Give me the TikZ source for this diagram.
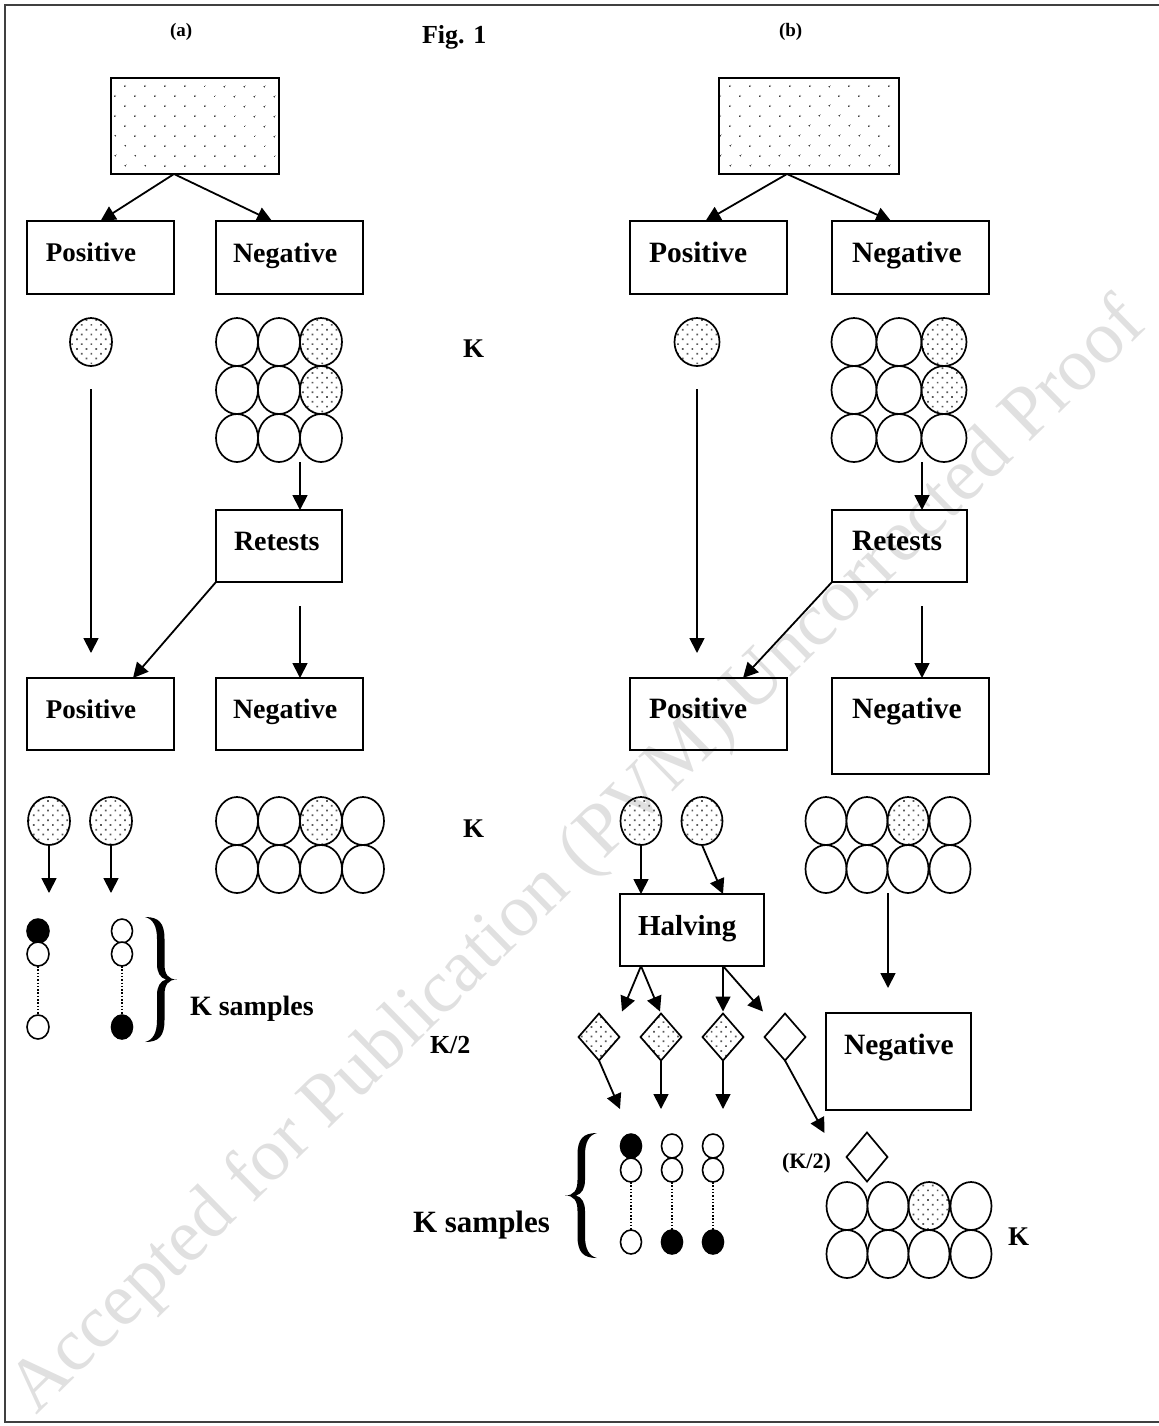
\documentclass[tikz,border=0pt]{standalone}
\usepackage{fontspec}
\setmainfont{Liberation Serif}
\usetikzlibrary{shapes.geometric,arrows.meta,patterns.meta,calc}
\newcommand\pxu{0.5pt}
\begin{document}
\begin{tikzpicture}[x=0.5pt,y=-0.5pt,
  frame/.style={line width=1pt,draw=black!75},
  bx/.style={draw,line width=1pt,inner sep=0pt,outer sep=0pt},
  dotr/.style={pattern={Dots[radius=0.5pt,distance=6.9pt,angle=45]},pattern color=black!75},
  dotc/.style={pattern={Dots[radius=0.6pt,distance=3.4pt,angle=45]},pattern color=black!65},
  ell/.style={ellipse,draw,line width=0.85pt,inner sep=0pt,outer sep=0pt,fill=white,minimum width=42*\pxu,minimum height=48*\pxu},
  elld/.style={ell,dotc},
  wd/.style={minimum width=#1*\pxu},
  sm/.style={ellipse,draw,line width=0.8pt,inner sep=0pt,outer sep=0pt,fill=white,minimum width=21*\pxu,minimum height=24*\pxu},
  smb/.style={sm,fill=black},
  dia/.style={diamond,draw,line width=0.85pt,inner sep=0pt,outer sep=0pt,minimum width=41*\pxu,minimum height=47*\pxu},
  diad/.style={dia,dotc},
  arr/.style={line width=0.9pt,-{Triangle[length=7.5pt,width=7.5pt]}},
  dline/.style={line width=0.75pt,dash pattern=on 0.75pt off 0.9pt},
  txt/.style={anchor=base west,inner sep=0pt,outer sep=0pt,font=\bfseries\fontsize{#1}{#1}\selectfont},
  wm/.style={anchor=base west,inner sep=0pt,text=black!12,font=\fontsize{37.5}{37.5}\selectfont},
  rbr/.pic={\fill (0,0) .. controls (14,0) and (19.5,6) .. (19.5,22)
      -- (19.5,47) .. controls (19.5,57) and (23,62.5) .. (32,62.5)
      .. controls (23,62.5) and (19.5,68) .. (19.5,78)
      -- (19.5,103) .. controls (19.5,119) and (14,125) .. (0,125)
      .. controls (8,123) and (12,116) .. (12,103)
      -- (12,78) .. controls (12,70) and (15,64) .. (21,62.5)
      .. controls (15,61) and (12,55) .. (12,47)
      -- (12,22) .. controls (12,9) and (8,2) .. (0,0) -- cycle;}
]
\useasboundingbox (0,0) rectangle (1159,1426);
% watermark
\node[wm,rotate=44.4] (wmk) at (36,1416) {Accepted for Publication (PVM) Uncorrected Proof};
% frame
\draw[frame] (1159,5) -- (5,5) -- (5,1422) -- (1159,1422);
% titles
\node[txt=9.5] (ta) at (170,36) {(a)};
\node[txt=13] (fig) at (422,43) {Fig. 1};
\node[txt=9.5] (tb) at (779,36) {(b)};

% ================= (a) =================
\node[bx,dotr,minimum width=168*\pxu,minimum height=96*\pxu] (topA) at (195,126) {};
\node[bx,minimum width=147*\pxu,minimum height=73*\pxu] (posA) at (100.5,257.5) {};
\node[bx,minimum width=147*\pxu,minimum height=73*\pxu] (negA) at (289.5,257.5) {};
\node[txt=13.5] (posAt) at (46,261) {Positive};
\node[txt=14] (negAt) at (233,262) {Negative};
\coordinate (apA) at (174,174);
\draw[arr] (apA) -- (posA.north);
\draw[arr] (apA) -- ($(negA.north)+(-17.5,0)$);

\node[elld] (circA) at (91,342) {};
\foreach \x/\y/\n/\s in {237/342/gA11/ell,279/342/gA12/ell,321/342/gA13/elld,
  237/390/gA21/ell,279/390/gA22/ell,321/390/gA23/elld,
  237/438/gA31/ell,279/438/gA32/ell,321/438/gA33/ell}
  \node[\s] (\n) at (\x,\y) {};

\node[bx,minimum width=126*\pxu,minimum height=72*\pxu] (retA) at (279,546) {};
\node[txt=14] (retAt) at (234,550) {Retests};
\draw[arr] ($(gA32.south)+(21,0)$) -- ($(retA.north)+(21,0)$);

\node[bx,minimum width=147*\pxu,minimum height=72*\pxu] (posA2) at (100.5,714) {};
\node[bx,minimum width=147*\pxu,minimum height=72*\pxu] (negA2) at (289.5,714) {};
\node[txt=13.5] (posA2t) at (46,718) {Positive};
\node[txt=14] (negA2t) at (233,718) {Negative};
\draw[arr,shorten <=11.5pt,shorten >=12.5pt] (circA.south) -- (circA.south |- posA2.north);
\draw[arr] (retA.south west) -- ($(posA2.north)+(32.5,0)$);
\draw[arr] ($(retA.south)+(21,24)$) -- ($(negA2.north)+(10.5,0)$);

\node[elld] (cA1) at (49,821) {};
\node[elld] (cA2) at (111,821) {};
\draw[arr] (cA1.south) -- ++(0,48);
\draw[arr] (cA2.south) -- ++(0,48);

\foreach \x/\y/\n/\s in {237/821/hA11/ell,279/821/hA12/ell,321/821/hA13/elld,363/821/hA14/ell,
  237/869/hA21/ell,279/869/hA22/ell,321/869/hA23/ell,363/869/hA24/ell}
  \node[\s] (\n) at (\x,\y) {};

% samples (a)
\node[smb,minimum width=22*\pxu] (sA11) at (38,931) {};
\node[sm,minimum width=22*\pxu] (sA12) at (38,954) {};
\node[sm,minimum width=22*\pxu] (sA13) at (38,1027) {};
\draw[dline] (sA12.south) -- (sA13.north);
\node[sm] (sA21) at (122,931) {};
\node[sm] (sA22) at (122,954) {};
\node[smb] (sA23) at (122,1027) {};
\draw[dline] (sA22.south) -- (sA23.north);
\pic at (145,917) {rbr};
\node[txt=14] (ksA) at (190,1015) {K samples};

% middle labels
\node[txt=13.5] (k1) at (463,357) {K};
\node[txt=13.5] (k2) at (463,837) {K};
\node[txt=13] (k3) at (430,1053) {K/2};

% ================= (b) =================
\node[bx,dotr,minimum width=180*\pxu,minimum height=96*\pxu] (topB) at (809,126) {};
\node[bx,minimum width=157*\pxu,minimum height=73*\pxu] (posB) at (708.5,257.5) {};
\node[bx,minimum width=157*\pxu,minimum height=73*\pxu] (negB) at (910.5,257.5) {};
\node[txt=14.75] (posBt) at (649,262) {Positive};
\node[txt=14.75] (negBt) at (852,262) {Negative};
\coordinate (apB) at (787,174);
\draw[arr] (apB) -- ($(posB.north)+(-3,0)$);
\draw[arr] (apB) -- ($(negB.north)+(-19.5,0)$);

\node[elld,wd=45] (circB) at (697,342) {};
\foreach \x/\y/\n/\s in {854/342/gB11/ell,899/342/gB12/ell,944/342/gB13/elld,
  854/390/gB21/ell,899/390/gB22/ell,944/390/gB23/elld,
  854/438/gB31/ell,899/438/gB32/ell,944/438/gB33/ell}
  \node[\s,wd=45] (\n) at (\x,\y) {};

\node[bx,minimum width=135*\pxu,minimum height=72*\pxu] (retB) at (899.5,546) {};
\node[txt=14.75] (retBt) at (852,550) {Retests};
\draw[arr] ($(gB32.south)+(23,0)$) -- ($(retB.north)+(22.5,0)$);

\node[bx,minimum width=157*\pxu,minimum height=72*\pxu] (posB2) at (708.5,714) {};
\node[bx,minimum width=157*\pxu,minimum height=96*\pxu] (negB2) at (910.5,726) {};
\node[txt=14.75] (posB2t) at (649,718) {Positive};
\node[txt=14.75] (negB2t) at (852,718) {Negative};
\draw[arr,shorten <=11.5pt,shorten >=12.5pt] (circB.south) -- (circB.south |- posB2.north);
\draw[arr] (retB.south west) -- ($(posB2.north)+(34.5,0)$);
\draw[arr] ($(retB.south)+(22.5,24)$) -- ($(negB2.north)+(11.5,0)$);

\node[elld,wd=41] (cB1) at (641,821) {};
\node[elld,wd=41] (cB2) at (702,821) {};
\foreach \x/\y/\n/\s in {826/821/gM11/ell,867/821/gM12/ell,908/821/gM13/elld,950/821/gM14/ell,
  826/869/gM21/ell,867/869/gM22/ell,908/869/gM23/ell,950/869/gM24/ell}
  \node[\s,wd=41] (\n) at (\x,\y) {};

\node[bx,minimum width=144*\pxu,minimum height=72*\pxu] (halv) at (692,930) {};
\node[txt=14.5] (halvt) at (638,935) {Halving};
\draw[arr] (cB1.south) -- (cB1.south |- halv.north);
\draw[arr] (cB2.south) -- ($(halv.north)+(31,0)$);

\node[diad] (dB1) at (599,1037) {};
\node[diad] (dB2) at (661,1037) {};
\node[diad] (dB3) at (723,1037) {};
\node[dia] (dB4) at (785,1037) {};
\draw[arr] ($(halv.south)+(-51,0)$) -- ($(dB1.north)+(23,-2)$);
\draw[arr] ($(halv.south)+(-51,0)$) -- ($(dB2.north)+(-1,-2)$);
\draw[arr] ($(halv.south)+(31,0)$) -- ($(dB3.north)+(0,-2)$);
\draw[arr] ($(halv.south)+(31,0)$) -- ($(dB4.north)+(-22,-2)$);

\node[bx,minimum width=145*\pxu,minimum height=97*\pxu] (negB3) at (898.5,1061.5) {};
\node[txt=14.75] (negB3t) at (844,1054) {Negative};
\draw[arr] ($(gM22.south)+(21,0)$) -- ($(negB3.north)+(-10.5,-25)$);

% samples (b)
\node[smb] (sB11) at (631,1146) {};
\node[sm] (sB12) at (631,1170) {};
\node[sm] (sB13) at (631,1242) {};
\node[sm] (sB21) at (672,1146) {};
\node[sm] (sB22) at (672,1170) {};
\node[smb] (sB23) at (672,1242) {};
\node[sm] (sB31) at (713,1146) {};
\node[sm] (sB32) at (713,1170) {};
\node[smb] (sB33) at (713,1242) {};
\draw[dline] (sB12.south) -- (sB13.north);
\draw[dline] (sB22.south) -- (sB23.north);
\draw[dline] (sB32.south) -- (sB33.north);
\pic[xscale=-1] at (597,1133) {rbr};
\node[txt=15.5] (ksB) at (413,1232) {K samples};

\draw[arr] (dB1.south) -- ($(sB11.north)+(-11,-25)$);
\draw[arr] (dB2.south) -- ($(sB21.north)+(-11,-25)$);
\draw[arr] (dB3.south) -- ($(sB31.north)+(10,-25)$);

\node[dia,minimum height=49*\pxu] (dW) at (867,1157) {};
\node[txt=11] (k2b) at (782,1168) {(K/2)};
\draw[arr] (dB4.south) -- ($(dW.west)+(-22,-24)$);

\foreach \x/\y/\n/\s in {847/1206/gN11/ell,888/1206/gN12/ell,929/1206/gN13/elld,971/1206/gN14/ell,
  847/1254/gN21/ell,888/1254/gN22/ell,929/1254/gN23/ell,971/1254/gN24/ell}
  \node[\s,wd=41] (\n) at (\x,\y) {};
\node[txt=13.5] (k4) at (1008,1245) {K};
\end{tikzpicture}
\end{document}
